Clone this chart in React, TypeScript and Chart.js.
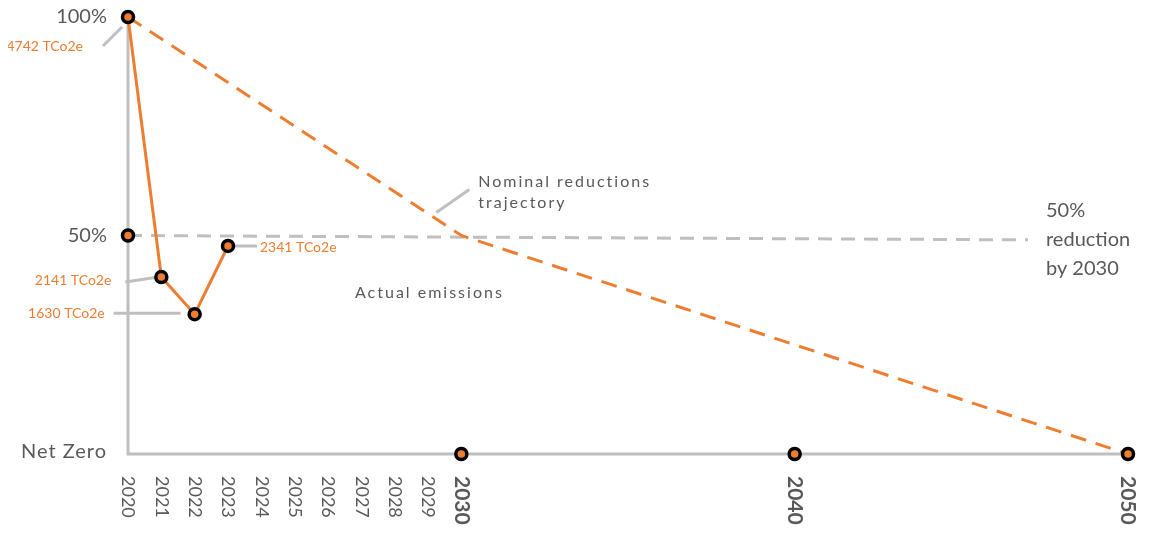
import React, { useEffect, useRef } from "react";
import { Chart, registerables } from "chart.js";

Chart.register(...registerables);

const actualYears = [2020, 2021, 2022, 2023];
const actualValues = [100, 40.5, 32, 47.6];
const actualLabels = ["4742 TCo2e", "2141 TCo2e", "1630 TCo2e", "2341 TCo2e"];

const trajectoryYears = [2020, 2030, 2050];
const trajectoryValues = [100, 50, 0];

const targetYears = [2020, 2047];
const targetValues = [50, 49];

const milestoneYears = [2030, 2040, 2050];
const milestoneValues = [0, 0, 0];

const tickYears = [2020, 2021, 2022, 2023, 2024, 2025, 2026, 2027, 2028, 2029, 2030, 2040, 2050];
const boldTickYears = [2030, 2040, 2050];

const yTickValues = [100, 50, 0];
const yTickLabels = ["100%", "50%", "Net Zero"];

const ORANGE = "#ED7D31";
const GRAY = "#BFBFBF";
const TEXT = "#595959";
const FONT = "Lato, 'Open Sans', sans-serif";

const overlay = {
  id: "overlay",
  beforeDatasetsDraw(chart: any) {
    const ctx = chart.ctx;
    const xs = chart.scales.x;
    const ys = chart.scales.y;
    const x0 = xs.getPixelForValue(2020);
    const x1 = xs.getPixelForValue(2050);
    const yTop = ys.getPixelForValue(100);
    const yBot = ys.getPixelForValue(0);
    ctx.save();
    ctx.strokeStyle = GRAY;
    ctx.lineWidth = 3;
    ctx.beginPath();
    ctx.moveTo(x0, yTop);
    ctx.lineTo(x0, yBot);
    ctx.lineTo(x1, yBot);
    ctx.stroke();

    // leader lines
    const px = (i: number) => xs.getPixelForValue(actualYears[i]);
    const py = (i: number) => ys.getPixelForValue(actualValues[i]);
    const seg = (a: number, b: number, c: number, d: number) => {
      ctx.beginPath();
      ctx.moveTo(a, b);
      ctx.lineTo(c, d);
      ctx.stroke();
    };
    seg(px(0) - 25, py(0) + 29, px(0) - 6, py(0) + 10);
    seg(px(1) - 36, py(1) + 5, px(1) - 3, py(1));
    seg(px(2) - 81, py(2) - 1, px(2) - 14, py(2) - 1);
    seg(px(3) + 6, py(3), px(3) + 29, py(3));
    const nx = xs.getPixelForValue(2030);
    const ny = ys.getPixelForValue(50);
    seg(nx - 25, ny - 23, nx + 8, ny - 46);
    ctx.restore();
  },
  afterDraw(chart: any) {
    const ctx = chart.ctx;
    const xs = chart.scales.x;
    const ys = chart.scales.y;
    ctx.save();
    // y labels
    ctx.fillStyle = TEXT;
    ctx.font = `20px ${FONT}`;
    ctx.textAlign = "right";
    ctx.textBaseline = "middle";
    const x0 = xs.getPixelForValue(2020);
    yTickValues.forEach((v, i) => {
      (ctx as any).letterSpacing = v === 0 ? "1px" : "0px";
      ctx.fillText(yTickLabels[i], x0 - 21, ys.getPixelForValue(v) + (v === 0 ? -2 : 0));
    });
    (ctx as any).letterSpacing = "0px";
    // x labels rotated clockwise
    const yBot = ys.getPixelForValue(0);
    tickYears.forEach((yr) => {
      const bold = boldTickYears.includes(yr);
      ctx.save();
      ctx.translate(xs.getPixelForValue(yr), yBot + 22);
      ctx.rotate(Math.PI / 2);
      ctx.font = bold ? `bold 21px ${FONT}` : `18px ${FONT}`;
      ctx.textAlign = "left";
      ctx.textBaseline = "middle";
      ctx.fillStyle = TEXT;
      ctx.fillText(String(yr), 0, 0);
      ctx.restore();
    });
    // value labels
    const px = (i: number) => xs.getPixelForValue(actualYears[i]);
    const py = (i: number) => ys.getPixelForValue(actualValues[i]);
    ctx.fillStyle = ORANGE;
    ctx.font = `14px ${FONT}`;
    ctx.textBaseline = "middle";
    ctx.textAlign = "right";
    ctx.fillText(actualLabels[0], px(0) - 45, py(0) + 29);
    ctx.fillText(actualLabels[1], px(1) - 50, py(1) + 3);
    ctx.fillText(actualLabels[2], px(2) - 90, py(2) - 1);
    ctx.textAlign = "left";
    ctx.fillText(actualLabels[3], px(3) + 32, py(3) + 1);

    // annotations
    ctx.fillStyle = TEXT;
    ctx.font = `16px ${FONT}`;
    (ctx as any).letterSpacing = "2px";
    const nx = xs.getPixelForValue(2030);
    const ny = ys.getPixelForValue(50);
    ctx.fillText("Nominal reductions", nx + 17, ny - 54);
    ctx.fillText("trajectory", nx + 17, ny - 33);
    ctx.fillText("Actual emissions", xs.getPixelForValue(2020) + 227, ys.getPixelForValue(50) + 57);
    (ctx as any).letterSpacing = "0px";
    ctx.font = `20px ${FONT}`;
    const rx = xs.getPixelForValue(2047) + 18;
    ctx.fillText("50%", rx, ny - 25);
    ctx.fillText("reduction", rx, ny + 4);
    ctx.fillText("by 2030", rx, ny + 33);
    ctx.restore();
  },
};

const toPts = (xs: number[], ys: number[]) => xs.map((x, i) => ({ x, y: ys[i] }));

export default function App() {
  const ref = useRef<HTMLCanvasElement>(null);
  useEffect(() => {
    if (!ref.current) return;
    const chart = new Chart(ref.current, {
      type: "scatter",
      data: {
        datasets: [
          {
            label: "Target",
            data: toPts(targetYears, targetValues),
            showLine: true,
            borderColor: GRAY,
            borderWidth: 3,
            borderDash: [14, 9],
            pointRadius: 0,
            clip: false as any,
            order: 4,
          },
          {
            label: "Trajectory",
            data: toPts(trajectoryYears, trajectoryValues),
            showLine: true,
            borderColor: ORANGE,
            borderWidth: 3,
            borderDash: [16, 10],
            pointRadius: 0,
            clip: false as any,
            order: 3,
          },
          {
            label: "Actual",
            data: toPts(actualYears, actualValues),
            showLine: true,
            borderColor: ORANGE,
            borderWidth: 3,
            pointRadius: 5.5,
            pointBorderWidth: 3.5,
            pointBorderColor: "#000000",
            pointBackgroundColor: ORANGE,
            clip: false as any,
            order: 1,
          },
          {
            label: "Markers",
            data: [
              { x: targetYears[0], y: targetValues[0] },
              ...toPts(milestoneYears, milestoneValues),
            ],
            showLine: false,
            pointRadius: 5.5,
            pointBorderWidth: 3.5,
            pointBorderColor: "#000000",
            pointBackgroundColor: ORANGE,
            clip: false as any,
            order: 0,
          },
        ],
      },
      options: {
        animation: false,
        responsive: false,
        maintainAspectRatio: false,
        layout: { padding: { left: 120, right: 14, top: 9, bottom: 79 } },
        plugins: { legend: { display: false }, tooltip: { enabled: false } },
        scales: {
          x: { type: "linear", min: 2020, max: 2050, display: false },
          y: { type: "linear", min: 0, max: 100, display: false },
        },
      },
      plugins: [overlay],
    });
    return () => chart.destroy();
  }, []);
  return (
    <div style={{ width: 1134, height: 525, marginBottom: -8 }}>
      <canvas ref={ref} width={1134} height={525} style={{ display: "block" }} />
    </div>
  );
}
